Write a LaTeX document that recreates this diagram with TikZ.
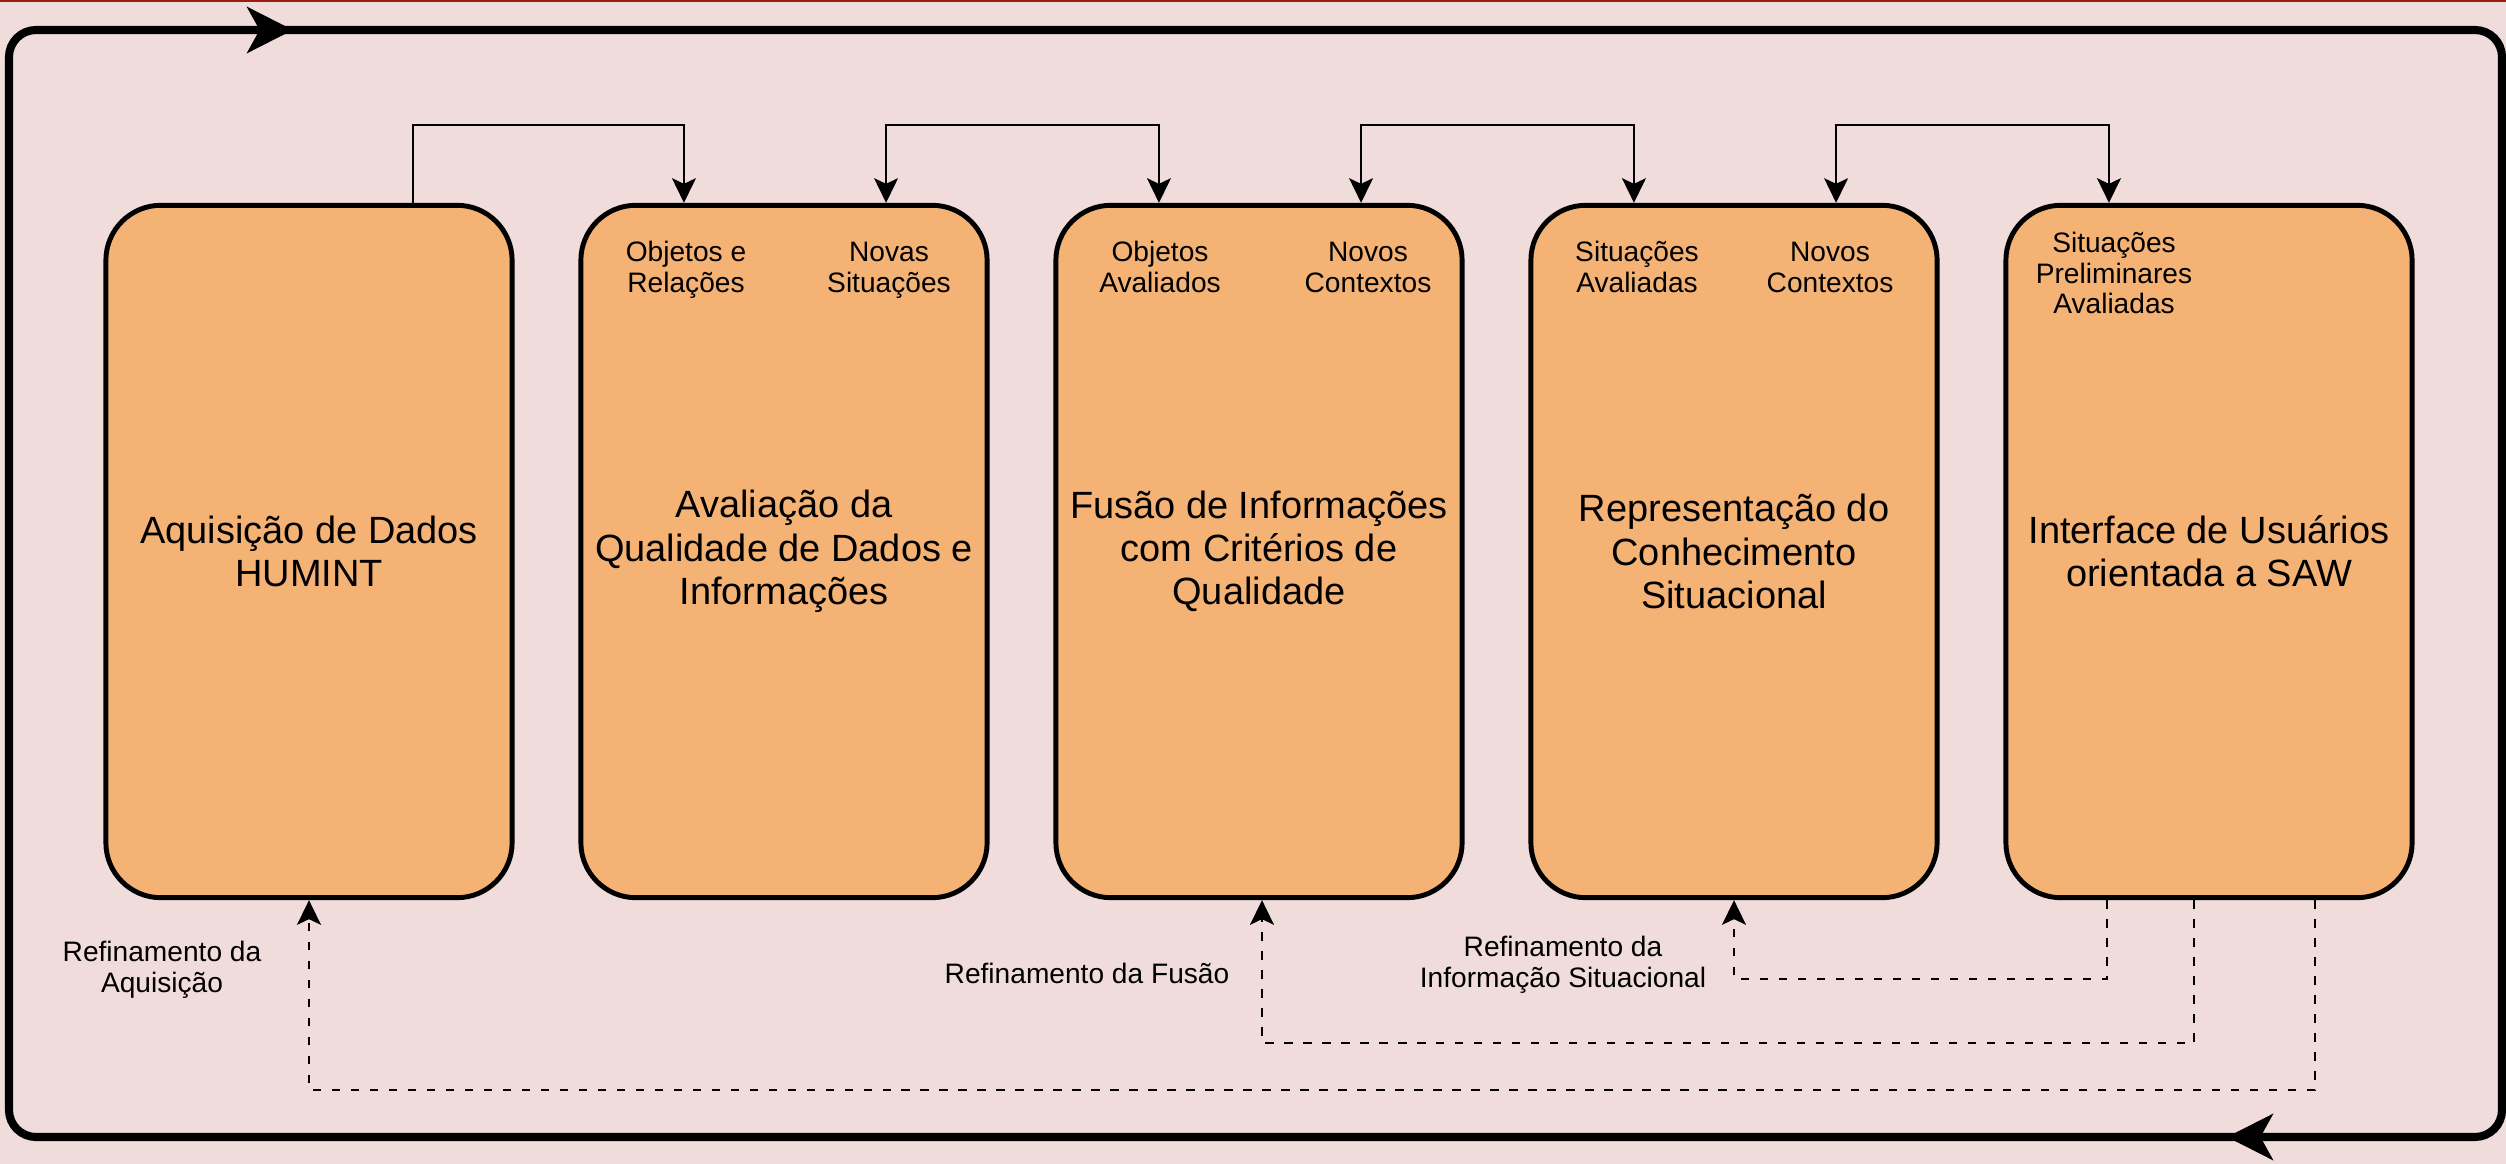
\documentclass[tikz,border=0pt]{standalone}
\usepackage{fontspec}
\setmainfont{Liberation Sans}
\usetikzlibrary{arrows.meta}
\definecolor{fundo}{RGB}{241,220,220}
\definecolor{laranja}{RGB}{244,178,117}
\definecolor{faixa}{RGB}{150,30,20}
\tikzset{
  seta/.tip={Stealth[length=7pt,width=6.8pt,inset=1.6pt]},
  setagrande/.tip={Stealth[length=13pt,width=13pt,inset=3.5pt]}
}
\begin{document}
\begin{tikzpicture}[x=0.01cm,y=-0.01cm,
    box/.style={draw,line width=1.4pt,fill=laranja,rounded corners=0.55cm,
      minimum width=4.06cm,minimum height=6.92cm,align=center,
      font=\fontsize{10.8}{12.3}\selectfont},
    tag/.style={align=center,font=\fontsize{8}{8.8}\selectfont},
    link/.style={line width=0.6pt},
    feedback/.style={line width=0.6pt,dash pattern=on 2.4pt off 3pt,-seta},
    ciclo/.style={line width=2.3pt}]
    \useasboundingbox (0,0) rectangle (2506,1164);
    \fill[fundo] (0,0) rectangle (2506,1164);
    \draw[faixa,line width=0.7pt] (0,1.2) -- (2506,1.2);
    % ciclo externo
    \draw[ciclo,rounded corners=0.27cm] (9,30) rectangle (2502,1137);
    \draw[ciclo,-setagrande] (150,30) -- (293,30);
    \draw[ciclo,-setagrande] (2400,1137) -- (2227,1137);
    % blocos
    \foreach \i/\txt in {1/{Aquisição de Dados\\HUMINT},
        2/{Avaliação da\\Qualidade de Dados e\\Informações},
        3/{Fusão de Informações\\com Critérios de\\Qualidade},
        4/{Representação do\\Conhecimento\\Situacional},
        5/{Interface de Usuários\\orientada a SAW}}
      \node[box] (b\i) at ({309+475*(\i-1)},551.5) {\txt};
    % entradas e saidas
    \node[tag] (t2a) at (686,270) {Objetos e\\Relações};
    \node[tag] (t2b) at (889,270) {Novas\\Situações};
    \node[tag] (t3a) at (1160,267) {Objetos\\Avaliados};
    \node[tag] (t3b) at (1368,267) {Novos\\Contextos};
    \node[tag] (t4a) at (1637,267) {Situações\\Avaliadas};
    \node[tag] (t4b) at (1830,267) {Novos\\Contextos};
    \node[tag] (t5a) at (2114,273) {Situações\\Preliminares\\Avaliadas};
    \draw[link,-seta] ([xshift=1.04cm]b1.north) -- ++(0,-78) -| ([xshift=-1.0cm]b2.north);
    \foreach \a/\b in {b2/b3,b3/b4,b4/b5}
      \draw[link,seta-seta] ([xshift=1.02cm]\a.north) -- ++(0,-78) -| ([xshift=-1.0cm]\b.north);
    % refinamentos
    \draw[feedback] ([xshift=-1.02cm]b5.south) -- ++(0,79) -| (b4.south);
    \draw[feedback] ([xshift=-0.15cm]b5.south) -- ++(0,143) -| ([xshift=0.03cm]b3.south);
    \draw[feedback] ([xshift=1.06cm]b5.south) -- ++(0,190) -| (b1.south);
    \node[tag] (r1) at (162,970) {Refinamento da\\Aquisição};
    \node[tag] (r3) at (1087,973) {Refinamento da Fusão};
    \node[tag] (r4) at (1563,965) {Refinamento da\\Informação Situacional};
\end{tikzpicture}
\end{document}
